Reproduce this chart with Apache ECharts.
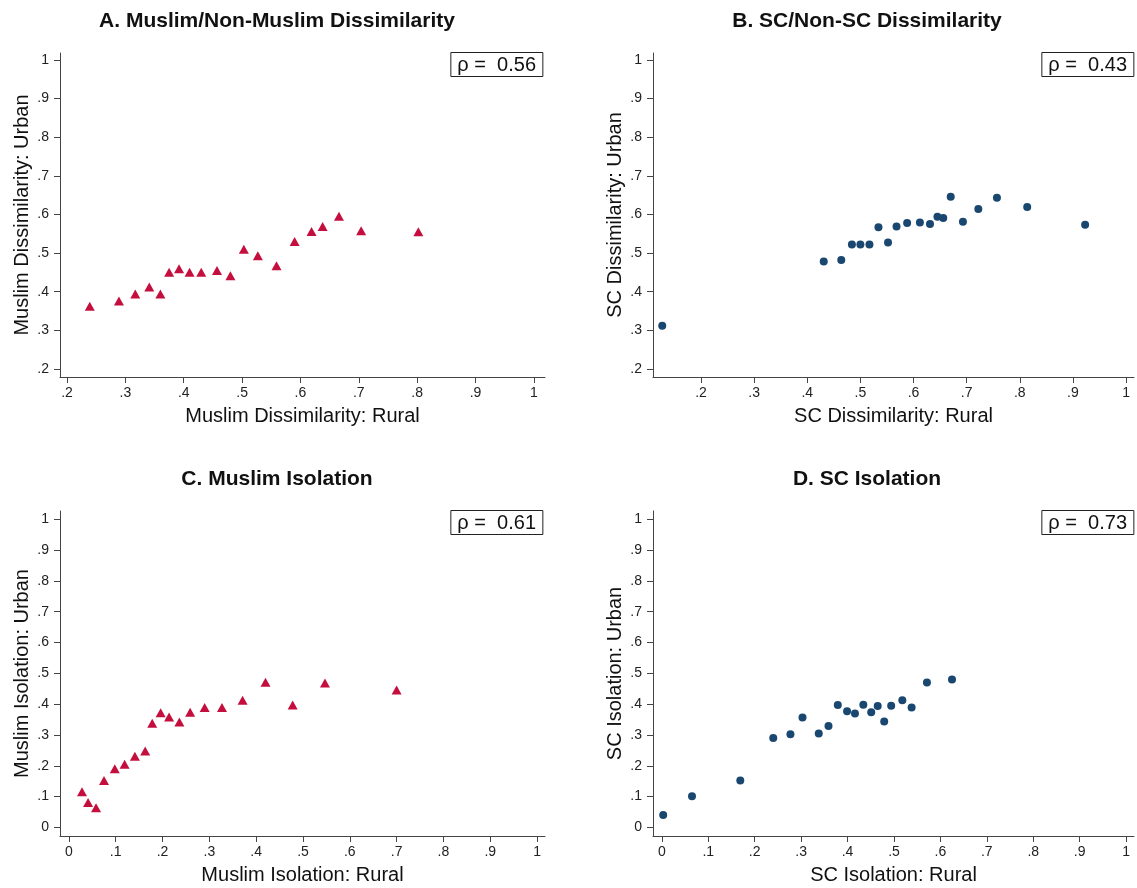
<!DOCTYPE html>
<html>
<head>
<meta charset="utf-8">
<script src="https://cdn.jsdelivr.net/npm/echarts@6/dist/echarts.min.js"></script>
<style>
  html, body { margin: 0; padding: 0; background: #fff; }
  #main { width: 1137px; height: 888px; }
</style>
</head>
<body>
<div id="main"></div>
<script>
// tick labels
var ticksFrom2 = [0.2, 0.3, 0.4, 0.5, 0.6, 0.7, 0.8, 0.9, 1];
var ticksFrom0 = [0, 0.1, 0.2, 0.3, 0.4, 0.5, 0.6, 0.7, 0.8, 0.9, 1];

// A. Muslim/Non-Muslim dissimilarity (rural, urban)
var muslimDisRural = [0.239, 0.289, 0.317, 0.341, 0.360, 0.375, 0.392, 0.410, 0.430, 0.457,
                      0.480, 0.503, 0.527, 0.559, 0.590, 0.619, 0.638, 0.666, 0.704, 0.802];
var muslimDisUrban = [0.362, 0.376, 0.394, 0.412, 0.394, 0.450, 0.459, 0.450, 0.450, 0.455,
                      0.441, 0.510, 0.493, 0.467, 0.530, 0.556, 0.569, 0.595, 0.558, 0.555];

// B. SC/Non-SC dissimilarity
var scDisRural = [0.127, 0.431, 0.464, 0.484, 0.500, 0.517, 0.534, 0.552, 0.568, 0.588,
                  0.612, 0.631, 0.645, 0.656, 0.670, 0.693, 0.722, 0.757, 0.814, 0.923];
var scDisUrban = [0.312, 0.478, 0.482, 0.522, 0.522, 0.522, 0.567, 0.527, 0.569, 0.578,
                  0.579, 0.575, 0.594, 0.591, 0.646, 0.581, 0.614, 0.643, 0.619, 0.573];

// C. Muslim isolation
var muslimIsoRural = [0.028, 0.041, 0.058, 0.075, 0.098, 0.119, 0.141, 0.163, 0.178, 0.196,
                      0.214, 0.236, 0.259, 0.290, 0.327, 0.371, 0.420, 0.478, 0.547, 0.700];
var muslimIsoUrban = [0.116, 0.081, 0.064, 0.152, 0.190, 0.205, 0.231, 0.248, 0.338, 0.372,
                      0.358, 0.342, 0.374, 0.389, 0.389, 0.413, 0.471, 0.397, 0.469, 0.446];

// D. SC isolation
var scIsoRural = [0.003, 0.065, 0.169, 0.240, 0.277, 0.303, 0.338, 0.359, 0.379, 0.399,
                  0.416, 0.434, 0.451, 0.465, 0.479, 0.494, 0.518, 0.538, 0.571, 0.625];
var scIsoUrban = [0.040, 0.101, 0.152, 0.290, 0.302, 0.357, 0.305, 0.329, 0.397, 0.377,
                  0.370, 0.398, 0.374, 0.394, 0.344, 0.395, 0.413, 0.389, 0.470, 0.480];

var panelTitles = ['A. Muslim/Non-Muslim Dissimilarity', 'B. SC/Non-SC Dissimilarity',
                   'C. Muslim Isolation', 'D. SC Isolation'];
var xNames = ['Muslim Dissimilarity: Rural', 'SC Dissimilarity: Rural',
              'Muslim Isolation: Rural', 'SC Isolation: Rural'];
var yNames = ['Muslim Dissimilarity: Urban', 'SC Dissimilarity: Urban',
              'Muslim Isolation: Urban', 'SC Isolation: Urban'];
var rhos = ['0.56', '0.43', '0.61', '0.73'];

var FONT = '"Liberation Sans", Arial, Helvetica, sans-serif';
var RED = '#C40F3E';
var NAVY = '#1A476F';

function zip(a, b) {
  var out = [];
  for (var i = 0; i < a.length; i++) out.push([a[i], b[i]]);
  return out;
}

function fmt(v) {
  if (v === 0) return '0';
  if (v === 1) return '1';
  return String(+v.toFixed(1)).replace(/^0/, '');
}

//网格位置 (left, top, right, bottom)
var grids = [
  {left: 60, top: 53, right: 592, bottom: 511},
  {left: 653, top: 53, right: 3, bottom: 511},
  {left: 60, top: 511, right: 592, bottom: 52},
  {left: 653, top: 511, right: 3, bottom: 52}
];
var xRanges = [[0.188, 1.019], [0.1096, 1.015], [-0.019, 1.017], [-0.019, 1.017]];
var yRanges = [[0.179, 1.018], [0.179, 1.018], [-0.028, 1.027], [-0.028, 1.027]];
var xTicks = [ticksFrom2, ticksFrom2, ticksFrom0, ticksFrom0];
var yTicks = [ticksFrom2, ticksFrom2, ticksFrom0, ticksFrom0];
var titleCenters = [[272, 6], [862, 6], [272, 464], [862, 464]];
var rhoBoxes = [[594, 52], [3, 52], [594, 510], [3, 510]];

function axis(i, isX) {
  var r = isX ? xRanges[i] : yRanges[i];
  var t = isX ? xTicks[i] : yTicks[i];
  return {
    type: 'value',
    gridIndex: i,
    min: r[0],
    max: r[1],
    name: isX ? xNames[i] : yNames[i],
    nameLocation: 'middle',
    nameGap: isX ? 29 : 28,
    nameTextStyle: {fontFamily: FONT, fontSize: 20, color: '#111'},
    splitLine: {show: false},
    axisLine: {show: true, onZero: false, lineStyle: {color: '#444', width: 1}},
    axisTick: {show: true, inside: false, length: 6, customValues: t,
               lineStyle: {color: '#444', width: 1}},
    axisLabel: {show: true, customValues: t, formatter: fmt, margin: isX ? 9 : 11,
                fontFamily: FONT, fontSize: 14, color: '#222'}
  };
}

var myChart = echarts.init(document.getElementById('main'));

var option = {
  backgroundColor: '#fff',
  animation: false,
  title: [],
  grid: grids,
  xAxis: [],
  yAxis: [],
  series: []
};

var seriesData = [
  zip(muslimDisRural, muslimDisUrban),
  zip(scDisRural, scDisUrban),
  zip(muslimIsoRural, muslimIsoUrban),
  zip(scIsoRural, scIsoUrban)
];

for (var i = 0; i < 4; i++) {
  option.xAxis.push(axis(i, true));
  option.yAxis.push(axis(i, false));
  option.title.push({
    text: panelTitles[i],
    left: titleCenters[i][0],
    top: titleCenters[i][1],
    textAlign: 'center',
    textStyle: {fontFamily: FONT, fontSize: 21, fontWeight: 'bold', color: '#111'}
  });
  option.title.push({
    text: 'ρ =  ' + rhos[i],
    right: rhoBoxes[i][0],
    top: rhoBoxes[i][1],
    padding: [3, 7, 2, 7],
    borderColor: '#222',
    borderWidth: 1,
    backgroundColor: '#fff',
    textStyle: {fontFamily: FONT, fontSize: 20, fontWeight: 'normal', color: '#111'}
  });
  var muslim = (i === 0 || i === 2);
  option.series.push({
    type: 'scatter',
    xAxisIndex: i,
    yAxisIndex: i,
    data: seriesData[i],
    symbol: muslim ? 'triangle' : 'circle',
    symbolSize: muslim ? [10, 9] : 8,
    itemStyle: {color: muslim ? RED : NAVY, opacity: 1}
  });
}

myChart.setOption(option);
</script>
</body>
</html>
